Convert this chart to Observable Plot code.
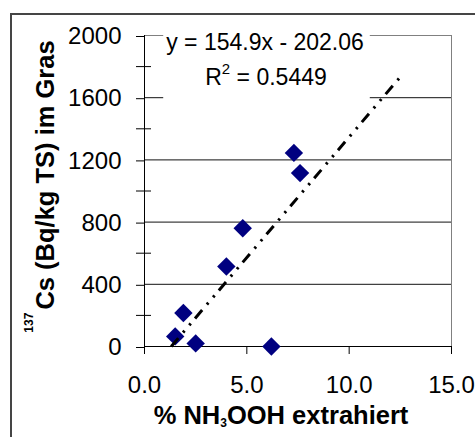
<!DOCTYPE html>
<html>
<head>
<meta charset="utf-8">
<script src="https://cdn.jsdelivr.net/npm/d3@7"></script>
<script src="https://cdn.jsdelivr.net/npm/@observablehq/plot@0.6"></script>
<style>
  html, body { margin: 0; padding: 0; background: #fff; }
  #chart { position: relative; width: 475px; height: 437px; overflow: hidden; }
  #chart svg { display: block; }
  #chart .area-border {
    position: absolute; left: 10px; top: 13px; right: -20px; bottom: -20px;
    border: 2px solid #454545; pointer-events: none;
  }
</style>
</head>
<body>
<div id="chart"></div>
<script>
// Share of NH3OOH-extractable fraction (%) and 137Cs activity in grass (Bq/kg TS)
const extracted = [7.3, 7.6, 4.8, 4.0, 1.9, 1.5, 2.5, 6.2];
const cesium    = [1245, 1115, 760, 515, 215, 65, 20, 0];

// Linear trendline as reported by the fit
const slope = 154.9;
const intercept = -202.06;
const rSquared = 0.5449;
const trendEndX = 12.5;

// Axis ticks
const xTicks = [0, 5, 10, 15];
const yTicks = [0, 400, 800, 1200, 1600, 2000];
const yMinorTicks = [200, 600, 1000, 1400, 1800];

const points = extracted.map((x, i) => ({x, y: cesium[i]}));

// The trendline starts where it crosses zero and runs to its forecast end
const trend = [-intercept / slope, trendEndX].map(x => ({x, y: slope * x + intercept}));

const font = "'Liberation Sans', Arial, Helvetica, sans-serif";

const chart = Plot.plot({
  width: 475,
  height: 437,
  marginLeft: 144,
  marginRight: 24,
  marginTop: 35,
  marginBottom: 91,
  style: {fontFamily: font, fontSize: "24px", color: "#000", background: "#fff"},
  x: {domain: [0, 15]},
  y: {domain: [0, 2000]},
  marks: [
    Plot.gridY(yTicks.filter(v => v > 0 && v < 2000), {stroke: "#111", strokeOpacity: 1}),
    Plot.frame({stroke: "#808080"}),
    Plot.ruleX([0], {stroke: "#000"}),
    Plot.ruleY([0], {stroke: "#000"}),
    Plot.axisY(yTicks, {
      tickSize: 8, tickPadding: 15, dy: 1, fontSize: 24,
      tickFormat: d => String(d), label: null
    }),
    Plot.axisY(yMinorTicks, {tickSize: 15, dx: 7, fill: "none", label: null}),
    Plot.axisX(xTicks, {
      tickSize: 8, tickPadding: 21, fontSize: 24,
      tickFormat: d => d.toFixed(1), label: null
    }),
    Plot.dot(points, {x: "x", y: "y", symbol: "diamond2", r: 8.3, fill: "#000080", stroke: "none"}),
    Plot.line(trend, {
      x: "x", y: "y", stroke: "#000", strokeWidth: 3,
      strokeDasharray: "11,7.3,2.3,7.3,2.3,6.6", strokeLinecap: "butt"
    })
  ]
});

const container = document.getElementById("chart");
container.appendChild(chart);
const border = document.createElement("div");
border.className = "area-border";
container.appendChild(border);

const svg = d3.select(chart);

// Trendline equation and coefficient of determination, on a white box
const label = svg.append("g").attr("font-family", font).attr("font-size", 23).attr("fill", "#000");
const labelBox = label.append("rect").attr("fill", "#fff");
label.append("text")
  .attr("x", 265).attr("y", 50).attr("text-anchor", "middle")
  .text(`y = ${slope}x - ${Math.abs(intercept).toFixed(2)}`);
const r2 = label.append("text")
  .attr("x", 266).attr("y", 85).attr("text-anchor", "middle");
r2.append("tspan").text("R");
r2.append("tspan").attr("font-size", 15).attr("dy", -11).text("2");
r2.append("tspan").attr("dy", 11).text(` = ${rSquared}`);

const texts = label.selectAll("text").nodes().map(n => n.getBBox());
const bx0 = d3.min(texts, b => b.x) - 3;
const bx1 = d3.max(texts, b => b.x + b.width) + 6;
const by0 = d3.min(texts, b => b.y) - 3;
const by1 = d3.max(texts, b => b.y + b.height) + 9;
labelBox.attr("x", bx0).attr("y", by0).attr("width", bx1 - bx0).attr("height", by1 - by0);

// x-axis title with subscript
const xTitle = svg.append("text")
  .attr("x", 281).attr("y", 424)
  .attr("text-anchor", "middle")
  .attr("font-family", font).attr("font-weight", "bold").attr("font-size", 25.5)
  .attr("fill", "#000");
xTitle.append("tspan").text("% NH");
xTitle.append("tspan").attr("font-size", 12).attr("dy", 3).text("3");
xTitle.append("tspan").attr("dy", -3).text("OOH extrahiert");

// y-axis title with superscript mass number
const yTitle = svg.append("text")
  .attr("transform", "translate(54,186.5) rotate(-90)")
  .attr("text-anchor", "middle")
  .attr("font-family", font).attr("font-weight", "bold").attr("font-size", 25.5)
  .attr("fill", "#000");
yTitle.append("tspan").attr("font-size", 12).attr("dy", -21).text("137");
yTitle.append("tspan").attr("dy", 21).attr("dx", 3).text("Cs (Bq/kg TS) im Gras");
</script>
</body>
</html>
